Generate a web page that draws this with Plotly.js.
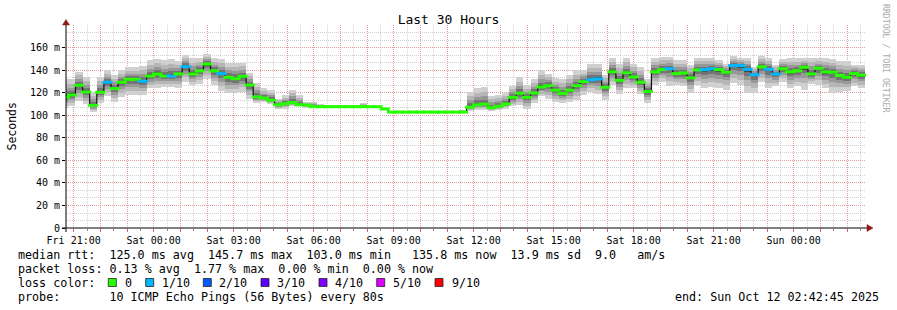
<!DOCTYPE html>
<html><head><meta charset="utf-8">
<script src="https://cdn.plot.ly/plotly-3.0.1.min.js"></script>
<style>html,body{margin:0;padding:0;background:#fff}#chart{width:897px;height:310px}</style>
</head><body><div id="chart"></div>
<script>
// ---- data (values in ms, 16-minute bins starting Fri 20:32) ----
const medianRtt = [116.2,118.2,126.8,120.9,109.0,120.6,129.5,123.9,129.5,132.1,
132.1,130.4,135.1,136.9,135.1,135.1,136.9,143.4,136.9,139.6,
145.7,139.6,137.2,133.9,132.7,134.8,127.1,116.5,115.5,113.5,
109.5,110.5,111.5,109.5,109.3,107.8,107.8,107.8,107.8,107.8,
107.8,107.8,107.8,107.8,107.8,105.8,103.0,103.0,103.0,103.0,
103.0,103.0,103.0,103.0,103.0,103.0,103.0,107.3,109.5,110.0,
107.0,108.1,110.2,116.1,119.7,116.1,120.0,125.3,126.5,122.5,
119.5,122.5,126.5,130.1,131.8,132.5,125.0,138.8,131.2,138.0,
134.2,129.5,121.3,138.7,140.8,141.6,137.2,137.8,133.5,140.5,
140.7,141.5,140.7,138.4,144.3,144.3,141.0,136.3,143.2,141.0,
136.8,141.5,138.7,139.7,142.8,137.0,141.9,138.7,138.4,135.5,
133.9,137.3,135.8];
const smokeLow = [107,108,113,110,103,111,117,112,116,118,
118,118,124,124,125,125,124,130,127,128,
132,127,122,120,120,121,115,111,112,110,
106,106,108,108,107,107,107,107.8,107.8,107.8,
107.8,107.8,107,107.8,107.8,105.8,103,103,103,103,
103,103,103,103,103,103,103,104,105,105,
104,105,106,108,109,106,111,117,115,112,
111,112,114,118,121,119,114,127,119,124,
124,119,111,127,130,126,127,126,120,127,
124,125,124,123,129,127,120,120,130,124,
126,130,124,126,123,128,127,124,120,121,
122,126,124];
const smokeHigh = [132,132,139,134,121,134,140,136,140,143,
143,144,149,150,149,150,148,154,151,151,
155,151,150,147,147,147,138,129,124,123,
115,118,123,118,112,112,110,107.8,107.8,107.8,
107.8,107.8,111,107.8,107.8,105.8,103,103,103,103,
103,103,103,103,103,103,105,121,124,125,
117,118,120,126,134,127,132,140,137,133,
132,136,140,140,146,146,136,151,146,151,
146,143,132,151,152,152,149,149,145,151,
151,151,149,146,153,151,151,143,153,151,
145,150,151,151,151,151,151,151,150,148,
148,145,145];
// loss colour index per bin (0 = no loss, 1 = 1/10)
const lossIdx = [0,0,0,0,0,0,1,0,0,0, 0,1,0,0,0,1,0,1,0,0,
0,0,1,0,0,0,0,0,0,0, 0,0,0,0,0,0,0,0,0,0, 0,0,0,0,0,0,0,0,0,0,
0,0,0,0,0,0,0,0,0,0, 0,0,0,0,0,0,0,0,0,0, 0,0,0,0,1,1,0,0,0,0,
0,0,0,0,0,1,0,0,0,0, 1,1,0,0,1,1,1,1,0,1, 1,0,0,0,0,0,0,0,0,0, 0,0,0];
const lossColors = ['#26ff00','#00b8ff','#0059ff','#5e00ff','#7e00ff','#dd00ff','#ff0000'];
const lossLabels = ['0','1/10','2/10','3/10','4/10','5/10','9/10'];
const yTickVals = [0,20,40,60,80,100,120,140,160];
const yTickText = ['0','20 m','40 m','60 m','80 m','100 m','120 m','140 m','160 m'];
const xTickLabels = ['Fri 21:00','Sat 00:00','Sat 03:00','Sat 06:00','Sat 09:00','Sat 12:00','Sat 15:00','Sat 18:00','Sat 21:00','Sun 00:00'];
const statLine1 = 'median rtt:  125.0 ms avg  145.7 ms max  103.0 ms min   135.8 ms now  13.9 ms sd  9.0   am/s';
const statLine2 = 'packet loss: 0.13 % avg  1.77 % max  0.00 % min  0.00 % now';
const probeLine = 'probe:       10 ICMP Echo Pings (56 Bytes) every 80s';
const endLine = 'end: Sun Oct 12 02:42:45 2025';

// ---- helpers ----
const BIN_START = Date.UTC(2025,9,10,20,32,0);
const BIN_MS = 16*60*1000;
const fmt = ms => new Date(ms).toISOString().replace('T',' ').slice(0,19);
const xs = medianRtt.map((_,k)=>fmt(BIN_START + BIN_MS*k + BIN_MS/2));
const W=897,H=310,L=66,R=866,T=25,B=228;
const px = v => (v-L)/(R-L);
const py = v => (B-v)/(B-T);
const MONO = 'DejaVu Sans Mono';
const nb = s => s.replace(/ /g,'\u00a0');

const traces = [];
const shades = [[1,'#d0d0d0'],[0.72,'#b6b6b6'],[0.47,'#989898'],[0.27,'#747474'],[0.1,'#474747']];
shades.forEach(([f,c])=>{
  traces.push({type:'bar', x:xs, width:BIN_MS,
    base: medianRtt.map((m,k)=>m-(m-smokeLow[k])*f),
    y: medianRtt.map((m,k)=>(m-smokeLow[k])*f+(smokeHigh[k]-m)*f),
    marker:{color:c, line:{width:0}}, hoverinfo:'skip', showlegend:false});
});
traces.push({type:'scatter', mode:'lines', x:xs, y:medianRtt, line:{shape:'hvh', color:'#111', width:1.2}, hoverinfo:'skip', showlegend:false});
traces.push({type:'scatter', mode:'markers', x:xs, y:medianRtt,
  marker:{symbol:'line-ew', size:7.2, line:{width:3, color:lossIdx.map(i=>lossColors[i])}},
  hoverinfo:'skip', showlegend:false});

// x ticks: hourly gridlines, labels every 3 h
const tickVals=[], tickText=[];
let li=0;
for(let h=0; h<30; h++){
  const t = Date.UTC(2025,9,10,21,0,0)+h*3600000;
  tickVals.push(fmt(t));
  tickText.push(h%3===0 ? xTickLabels[li++] : '');
}

const annotations = [];
const ann = (text,x,y,opt={}) => annotations.push(Object.assign({text:nb(text), xref:'paper', yref:'paper', x:px(x), y:py(y), showarrow:false, xanchor:'left', yanchor:'middle', font:{family:MONO,size:11.7,color:'#000'}}, opt));
ann(statLine1, 15.5, 254.5);
ann(statLine2, 15.5, 268.5);
ann('loss color:', 15.5, 282.5);
ann(probeLine, 15.5, 296.5);
ann(endLine, 881, 296.5, {xanchor:'right'});
const sqX = [108.3,145.7,203.3,261,319,376.7,435];
const lbX = [123.3,160,217.7,275.7,333.3,391,450];
const shapes = [];
lossLabels.forEach((lab,i)=>{
  ann(lab, lbX[i]-0.5, 282.5);
  shapes.push({type:'rect', xref:'paper', yref:'paper', x0:px(sqX[i]), x1:px(sqX[i]+8), y0:py(286.5), y1:py(278.5), fillcolor:lossColors[i], line:{color:'#222', width:0.8}});
});
ann('Seconds', 11, 126.5, {xanchor:'center', textangle:-90, font:{family:MONO,size:11.5,color:'#000'}});
ann('RRDTOOL / TOBI OETIKER', 886, 59, {xanchor:'center', textangle:90, font:{family:MONO,size:8.2,color:'#aaaaaa'}});

// axis lines with arrow heads
shapes.push({type:'line', xref:'paper', yref:'paper', x0:px(62), x1:px(867), y0:py(228), y1:py(228), line:{color:'#000', width:1}, layer:'above'});
shapes.push({type:'line', xref:'paper', yref:'paper', x0:px(66), x1:px(66), y0:py(232), y1:py(24), line:{color:'#000', width:1}, layer:'above'});
shapes.push({type:'path', xref:'paper', yref:'paper', path:`M ${px(867)} ${py(224.5)} L ${px(873)} ${py(228)} L ${px(867)} ${py(231.5)} Z`, fillcolor:'#8b1a1a', line:{color:'#8b1a1a', width:0.5}, layer:'above'});
shapes.push({type:'path', xref:'paper', yref:'paper', path:`M ${px(62.5)} ${py(25)} L ${px(66)} ${py(19.5)} L ${px(69.5)} ${py(25)} Z`, fillcolor:'#8b1a1a', line:{color:'#8b1a1a', width:0.5}, layer:'above'});

const RED_GRID = 'rgba(240,120,120,0.6)';
const GRAY_GRID = 'rgba(165,165,165,0.5)';
const layout = {
  width:W, height:H, margin:{l:L, r:W-R, t:T, b:H-B},
  paper_bgcolor:'#fff', plot_bgcolor:'#fff',
  barmode:'overlay', bargap:0, hovermode:false,
  font:{family:MONO, size:10, color:'#000'},
  title:{text:'Last 30 Hours', xref:'container', yref:'container', x:0.5, y:1-19/H, xanchor:'center', yanchor:'middle', font:{family:MONO, size:13, color:'#000'}},
  xaxis:{type:'date', range:['2025-10-10 20:42:45','2025-10-12 02:42:45'],
    tickmode:'array', tickvals:tickVals, ticktext:tickText,
    showgrid:true, gridcolor:RED_GRID, griddash:'1px,1px', gridwidth:1,
    ticks:'outside', ticklen:3, tickcolor:'rgba(220,80,80,0.8)',
    tickfont:{family:MONO, size:10, color:'#000'},
    showline:false, zeroline:false, fixedrange:true,
    minor:{tickmode:'linear', tick0:'2025-10-10 21:00:00', dtick:1800000, showgrid:true, gridcolor:GRAY_GRID, griddash:'1px,1px', gridwidth:1, ticks:'outside', ticklen:2, tickcolor:'#888'}},
  yaxis:{range:[0,180.4], tickmode:'array', tickvals:yTickVals, ticktext:yTickText,
    showgrid:true, gridcolor:RED_GRID, griddash:'1px,1px', gridwidth:1,
    ticks:'outside', ticklen:3, tickcolor:'#000',
    tickfont:{family:MONO, size:10, color:'#000'},
    showline:false, zeroline:false, fixedrange:true,
    minor:{tickmode:'linear', tick0:0, dtick:20/3, showgrid:true, gridcolor:GRAY_GRID, griddash:'1px,1px', gridwidth:1}},
  annotations, shapes
};
Plotly.newPlot('chart', traces, layout, {displayModeBar:false, staticPlot:true});
</script></body></html>
